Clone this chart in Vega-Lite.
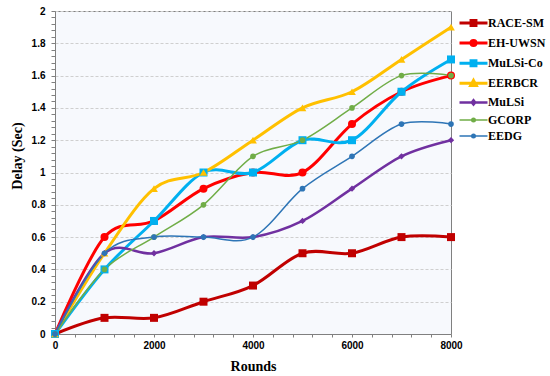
{
  "$schema": "https://vega.github.io/schema/vega-lite/v6.json",
  "width": 396,
  "height": 323,
  "autosize": {"type": "none"},
  "padding": {"left": 55, "top": 11, "right": 99, "bottom": 42},
  "background": "white",
  "config": {"view": {"stroke": "#808080", "strokeWidth": 1, "fill": "#f7f9fd"}, "font": "Liberation Sans"},
  "data": {"values": [
    {"series": "RACE-SM", "rounds": 0, "delay": 0},
    {"series": "RACE-SM", "rounds": 1000, "delay": 0.1},
    {"series": "RACE-SM", "rounds": 2000, "delay": 0.1},
    {"series": "RACE-SM", "rounds": 3000, "delay": 0.2},
    {"series": "RACE-SM", "rounds": 4000, "delay": 0.3},
    {"series": "RACE-SM", "rounds": 5000, "delay": 0.5},
    {"series": "RACE-SM", "rounds": 6000, "delay": 0.5},
    {"series": "RACE-SM", "rounds": 7000, "delay": 0.6},
    {"series": "RACE-SM", "rounds": 8000, "delay": 0.6},
    {"series": "EH-UWSN", "rounds": 0, "delay": 0},
    {"series": "EH-UWSN", "rounds": 1000, "delay": 0.6},
    {"series": "EH-UWSN", "rounds": 2000, "delay": 0.7},
    {"series": "EH-UWSN", "rounds": 3000, "delay": 0.9},
    {"series": "EH-UWSN", "rounds": 4000, "delay": 1.0},
    {"series": "EH-UWSN", "rounds": 5000, "delay": 1.0},
    {"series": "EH-UWSN", "rounds": 6000, "delay": 1.3},
    {"series": "EH-UWSN", "rounds": 7000, "delay": 1.5},
    {"series": "EH-UWSN", "rounds": 8000, "delay": 1.6},
    {"series": "MuLSi-Co", "rounds": 0, "delay": 0},
    {"series": "MuLSi-Co", "rounds": 1000, "delay": 0.4},
    {"series": "MuLSi-Co", "rounds": 2000, "delay": 0.7},
    {"series": "MuLSi-Co", "rounds": 3000, "delay": 1.0},
    {"series": "MuLSi-Co", "rounds": 4000, "delay": 1.0},
    {"series": "MuLSi-Co", "rounds": 5000, "delay": 1.2},
    {"series": "MuLSi-Co", "rounds": 6000, "delay": 1.2},
    {"series": "MuLSi-Co", "rounds": 7000, "delay": 1.5},
    {"series": "MuLSi-Co", "rounds": 8000, "delay": 1.7},
    {"series": "EERBCR", "rounds": 0, "delay": 0},
    {"series": "EERBCR", "rounds": 1000, "delay": 0.5},
    {"series": "EERBCR", "rounds": 2000, "delay": 0.9},
    {"series": "EERBCR", "rounds": 3000, "delay": 1.0},
    {"series": "EERBCR", "rounds": 4000, "delay": 1.2},
    {"series": "EERBCR", "rounds": 5000, "delay": 1.4},
    {"series": "EERBCR", "rounds": 6000, "delay": 1.5},
    {"series": "EERBCR", "rounds": 7000, "delay": 1.7},
    {"series": "EERBCR", "rounds": 8000, "delay": 1.9},
    {"series": "MuLSi", "rounds": 0, "delay": 0},
    {"series": "MuLSi", "rounds": 1000, "delay": 0.5},
    {"series": "MuLSi", "rounds": 2000, "delay": 0.5},
    {"series": "MuLSi", "rounds": 3000, "delay": 0.6},
    {"series": "MuLSi", "rounds": 4000, "delay": 0.6},
    {"series": "MuLSi", "rounds": 5000, "delay": 0.7},
    {"series": "MuLSi", "rounds": 6000, "delay": 0.9},
    {"series": "MuLSi", "rounds": 7000, "delay": 1.1},
    {"series": "MuLSi", "rounds": 8000, "delay": 1.2},
    {"series": "GCORP", "rounds": 0, "delay": 0},
    {"series": "GCORP", "rounds": 1000, "delay": 0.4},
    {"series": "GCORP", "rounds": 2000, "delay": 0.6},
    {"series": "GCORP", "rounds": 3000, "delay": 0.8},
    {"series": "GCORP", "rounds": 4000, "delay": 1.1},
    {"series": "GCORP", "rounds": 5000, "delay": 1.2},
    {"series": "GCORP", "rounds": 6000, "delay": 1.4},
    {"series": "GCORP", "rounds": 7000, "delay": 1.6},
    {"series": "GCORP", "rounds": 8000, "delay": 1.6},
    {"series": "EEDG", "rounds": 0, "delay": 0},
    {"series": "EEDG", "rounds": 1000, "delay": 0.5},
    {"series": "EEDG", "rounds": 2000, "delay": 0.6},
    {"series": "EEDG", "rounds": 3000, "delay": 0.6},
    {"series": "EEDG", "rounds": 4000, "delay": 0.6},
    {"series": "EEDG", "rounds": 5000, "delay": 0.9},
    {"series": "EEDG", "rounds": 6000, "delay": 1.1},
    {"series": "EEDG", "rounds": 7000, "delay": 1.3},
    {"series": "EEDG", "rounds": 8000, "delay": 1.3}
  ]},
  "encoding": {
    "x": {
      "field": "rounds", "type": "quantitative",
      "scale": {"domain": [0, 8000], "nice": false, "zero": false},
      "axis": {
        "title": "Rounds",
        "values": [0,400,800,1200,1600,2000,2400,2800,3200,3600,4000,4400,4800,5200,5600,6000,6400,6800,7200,7600,8000],
        "format": "d",
        "labelExpr": "datum.value % 2000 === 0 ? datum.label : ''",
        "grid": false,
        "domainColor": "#808080",
        "tickColor": "#808080",
        "tickSize": 3,
        "labelPadding": 3,
        "labelFont": "Liberation Sans",
        "labelFontWeight": "bold",
        "labelFontSize": 10,
        "labelColor": "#000000",
        "labelOverlap": false,
        "labelFlush": false,
        "labelBound": false,
        "titleFont": "Liberation Serif",
        "titleFontSize": 14,
        "titleFontWeight": "bold",
        "titleColor": "#000000",
        "titleY": 36,
        "titleBaseline": "alphabetic"
      }
    },
    "y": {
      "field": "delay", "type": "quantitative",
      "scale": {"domain": [0, 2], "nice": false, "zero": true},
      "axis": {
        "title": "Delay (Sec)",
        "values": [0,0.04,0.08,0.12,0.16,0.2,0.24,0.28,0.32,0.36,0.4,0.44,0.48,0.52,0.56,0.6,0.64,0.68,0.72,0.76,0.8,0.84,0.88,0.92,0.96,1,1.04,1.08,1.12,1.16,1.2,1.24,1.28,1.32,1.36,1.4,1.44,1.48,1.52,1.56,1.6,1.64,1.68,1.72,1.76,1.8,1.84,1.88,1.92,1.96,2],
        "labelExpr": "round(datum.value*100) % 20 === 0 ? format(datum.value, '~g') : ''",
        "grid": true,
        "gridColor": "#cfcfcf",
        "gridDash": [3, 2],
        "gridOpacity": {"condition": {"test": "round(datum.value*100) % 20 === 0", "value": 1}, "value": 0},
        "domainColor": "#808080",
        "tickColor": "#808080",
        "tickSize": 4,
        "labelPadding": 6,
        "labelFont": "Liberation Sans",
        "labelFontWeight": "bold",
        "labelFontSize": 10,
        "labelColor": "#000000",
        "labelOverlap": false,
        "labelBound": false,
        "labelFlush": false,
        "titleFont": "Liberation Serif",
        "titleFontSize": 14,
        "titleFontWeight": "bold",
        "titleColor": "#000000",
        "titleAngle": -90,
        "titleX": -37.5,
        "titleY": 144.5,
        "titleAlign": "center",
        "titleBaseline": "middle"
      }
    },
    "color": {
      "field": "series", "type": "nominal",
      "scale": {
        "domain": ["RACE-SM", "EH-UWSN", "MuLSi-Co", "EERBCR", "MuLSi", "GCORP", "EEDG"],
        "range": ["#C00000", "#FF0000", "#00B0F0", "#FFC000", "#7030A0", "#70AD47", "#2E75B6"]
      },
      "legend": {
        "title": null,
        "orient": "none",
        "legendX": 410,
        "legendY": 3.5,
        "padding": 0,
        "rowPadding": 2.1,
        "symbolSize": 196,
        "symbolStrokeWidth": 2.5,
        "symbolOpacity": 1,
        "labelOffset": 6,
        "labelFont": "Liberation Serif",
        "labelFontSize": 12,
        "labelFontWeight": "bold",
        "labelColor": "#000000"
      }
    }
  },
  "layer": [
    {
      "mark": {"type": "point", "filled": false, "opacity": 0, "size": 196, "strokeWidth": 2.5},
      "encoding": {
        "shape": {
          "field": "series", "type": "nominal",
          "scale": {"domain": ["RACE-SM", "EH-UWSN", "MuLSi-Co", "EERBCR", "MuLSi", "GCORP", "EEDG"], "range": [
            "M-2,0H2M-0.35,-0.35H0.35V0.35H-0.35ZM-0.12,-0.12H0.12V0.12H-0.12Z",
            "M-2,0H2M-0.36,0A0.36,0.36 0 1,0 0.36,0A0.36,0.36 0 1,0 -0.36,0ZM-0.12,0A0.12,0.12 0 1,0 0.12,0A0.12,0.12 0 1,0 -0.12,0Z",
            "M-2,0H2M-0.35,-0.35H0.35V0.35H-0.35ZM-0.12,-0.12H0.12V0.12H-0.12Z",
            "M-2,0H2M0,-0.42L0.4,0.3H-0.4ZM0,-0.1L0.1,0.08H-0.1Z",
            "M-2,0H2M0,-0.3L0.24,0L0,0.3L-0.24,0ZM0,-0.08L0.06,0L0,0.08L-0.06,0Z",
            "M-2,0H2M-0.25,0A0.25,0.25 0 1,0 0.25,0A0.25,0.25 0 1,0 -0.25,0ZM-0.06,0A0.06,0.06 0 1,0 0.06,0A0.06,0.06 0 1,0 -0.06,0Z",
            "M-2,0H2M-0.25,0A0.25,0.25 0 1,0 0.25,0A0.25,0.25 0 1,0 -0.25,0ZM-0.06,0A0.06,0.06 0 1,0 0.06,0A0.06,0.06 0 1,0 -0.06,0Z"
          ]},
          "legend": null
        }
      }
    },
    {
      "mark": {"type": "line", "interpolate": "cardinal"},
      "encoding": {
        "strokeWidth": {
          "field": "series", "type": "nominal",
          "scale": {"type": "ordinal", "domain": ["RACE-SM", "EH-UWSN", "MuLSi-Co", "EERBCR", "MuLSi", "GCORP", "EEDG"], "range": [3, 3, 3, 3, 2.5, 1.5, 1.5]},
          "legend": null
        }
      }
    },
    {"transform": [{"filter": "datum.series === 'RACE-SM'"}], "mark": {"type": "point", "shape": "square", "filled": true, "opacity": 1, "size": 64}},
    {"transform": [{"filter": "datum.series === 'EH-UWSN'"}], "mark": {"type": "point", "shape": "circle", "filled": true, "opacity": 1, "size": 64}},
    {"transform": [{"filter": "datum.series === 'MuLSi-Co'"}], "mark": {"type": "point", "shape": "square", "filled": true, "opacity": 1, "size": 64}},
    {"transform": [{"filter": "datum.series === 'EERBCR'"}], "mark": {"type": "point", "shape": "triangle-up", "filled": true, "opacity": 1, "size": 60}},
    {"transform": [{"filter": "datum.series === 'MuLSi'"}], "mark": {"type": "point", "shape": "diamond", "filled": true, "opacity": 1, "size": 40}},
    {"transform": [{"filter": "datum.series === 'GCORP'"}], "mark": {"type": "point", "shape": "circle", "filled": true, "opacity": 1, "size": 32}},
    {"transform": [{"filter": "datum.series === 'EEDG'"}], "mark": {"type": "point", "shape": "circle", "filled": true, "opacity": 1, "size": 32}}
  ]
}
